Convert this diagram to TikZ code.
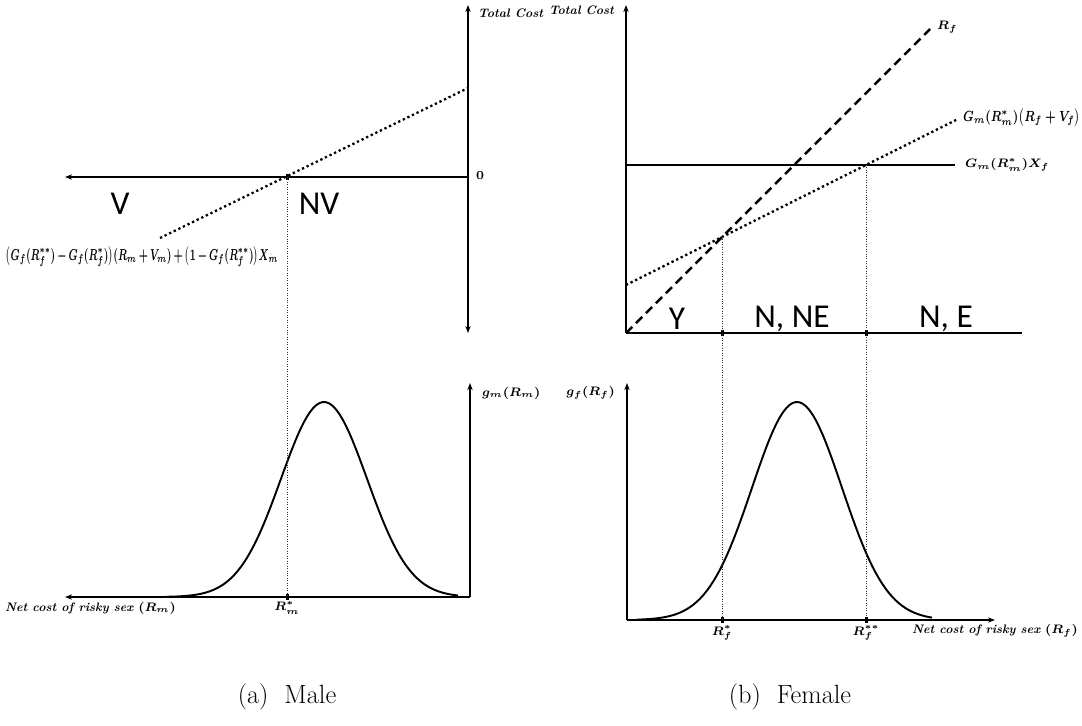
\documentclass[tikz,border=0pt]{standalone}
\usepackage{amsmath,amssymb}
\usepackage{graphicx}
\usepackage{fontspec}
\newfontfamily\zonefont{Carlito}
\usetikzlibrary{arrows.meta,calc}

\begin{document}
\begin{tikzpicture}[
  x=0.02cm,y=-0.02cm,
  >={Stealth[length=4pt,width=3pt]},
  axis/.style={line width=0.8pt},
  guide/.style={line width=0.4pt,densely dotted,black!80},
  dotline/.style={line width=1.3pt,dash pattern=on 1.3pt off 1.6pt},
  dashline/.style={line width=1.4pt,dash pattern=on 5pt off 3pt},
  tickmark/.style={fill=black,inner sep=0pt,minimum width=0.06cm,minimum height=0.11cm},
  lab/.style={font=\fontsize{7}{8}\selectfont\boldmath\bfseries\itshape,inner sep=1pt},
  zone/.style={font=\zonefont\fontsize{19}{19}\selectfont},
  caption/.style={font=\fontsize{15}{17}\selectfont}
]
  \useasboundingbox (0,0) rectangle (1082,725);

  % (a) Male, total cost
  \coordinate (mtop) at (468,5);
  \coordinate (mbot) at (468,333);
  \coordinate (morig) at (468,177);
  \coordinate (mleft) at (65,177);
  \coordinate (mlo) at (160,238);
  \coordinate (mhi) at (468,88);
  \draw[axis,<->] (mbot) -- (mtop);
  \draw[axis,->] (morig) -- (mleft);
  \draw[dotline] (mlo) -- (mhi);
  \node[tickmark] (rmtop) at (287,177) {};
  \node[lab,anchor=west] (mtc) at (476,13) {Total Cost};
  \node[lab,anchor=west] (mzero) at (474,176) {$0$};
  \node[zone] (vzone) at (120,204) {V};
  \node[zone] (nvzone) at (319,204) {NV};
  \node[lab] (mcost) at (142,257) {\resizebox{5.45cm}{0.27cm}{%
    $\medmuskip=3mu\thickmuskip=3mu
     \bigl(G_f(R_f^{**})-G_f(R_f^{*})\bigr)(R_m+V_m)+\bigl(1-G_f(R_f^{**})\bigr)X_m$}};

  % (a) Male, density
  \coordinate (gmtop) at (470,383);
  \coordinate (gmorig) at (470,597);
  \coordinate (gmleft) at (65,597);
  \draw[axis,->] (gmorig) -- (gmtop);
  \draw[axis,->] (gmorig) -- (gmleft);
  \draw[line width=1.1pt] plot[domain=165:458,samples=90]
    (\x,{597-195*exp(-0.5*((\x-324)/43)^2)});
  \node[tickmark] (rmbot) at (287,597) {};
  \draw[guide] (rmtop.center) -- (rmbot.center);
  \node[lab,anchor=west] (gmlab) at (480,393) {$g_m(R_m)$};
  \node[lab] (rmlab) at (287,608) {$R_m^{*}$};
  \node[lab,anchor=west] (mnet) at (3,608) {Net cost of risky sex $(R_m)$};
  \node[caption] (capa) at (287,697) {(a)\ \ Male};

  % (b) Female, total cost
  \coordinate (ftop) at (626,5);
  \coordinate (forig) at (626,333);
  \coordinate (fright) at (1022,333);
  \coordinate (rfend) at (930,29);
  \coordinate (vlo) at (626,285);
  \coordinate (vhi) at (958,119);
  \coordinate (xlo) at (626,165);
  \coordinate (xhi) at (955,165);
  \draw[axis,->] (forig) -- (ftop);
  \draw[axis] (forig) -- (fright);
  \draw[line width=1.3pt] (xlo) -- (xhi);
  \draw[dashline] (forig) -- (rfend);
  \draw[dotline] (vlo) -- (vhi);
  \node[tickmark] (rftop) at (722,333) {};
  \node[tickmark] (rfftop) at (866,333) {};
  \coordinate (cross1) at (722,237);
  \coordinate (cross2) at (866,165);
  \node[lab,anchor=east] (ftc) at (616,10) {Total Cost};
  \node[lab,anchor=west] (rflab) at (935,27) {$R_f$};
  \node[lab,anchor=west] (vflab) at (961,118)
    {\resizebox{2.35cm}{0.25cm}{$G_m(R_m^{*})\bigl(R_f+V_f\bigr)$}};
  \node[lab,anchor=west] (xflab) at (963,165) {$G_m(R_m^{*})X_f$};
  \node[zone] (yzone) at (677,319) {Y};
  \node[zone] (nnezone) at (792,319) {N, NE};
  \node[zone] (nezone) at (946,319) {N, E};

  % (b) Female, density
  \coordinate (gftop) at (627,383);
  \coordinate (gforig) at (627,620);
  \coordinate (gfright) at (995,620);
  \draw[axis,->] (gforig) -- (gftop);
  \draw[axis,->] (gforig) -- (gfright);
  \draw[line width=1.1pt] plot[domain=637:932,samples=90]
    (\x,{620-218*exp(-0.5*((\x-797)/45)^2)});
  \node[tickmark] (rfbot) at (722,620) {};
  \node[tickmark] (rffbot) at (866,620) {};
  \draw[guide] (cross1) -- (rfbot.center);
  \draw[guide] (cross2) -- (rffbot.center);
  \node[lab,anchor=east] (gflab) at (617,393) {$g_f(R_f)$};
  \node[lab] (rfstar) at (722,633) {$R_f^{*}$};
  \node[lab] (rffstar) at (866,633) {$R_f^{**}$};
  \node[lab,anchor=east] (fnet) at (1080,631) {Net cost of risky sex $(R_f)$};
  \node[caption] (capb) at (790,697) {(b)\ \ Female};
\end{tikzpicture}
\end{document}
